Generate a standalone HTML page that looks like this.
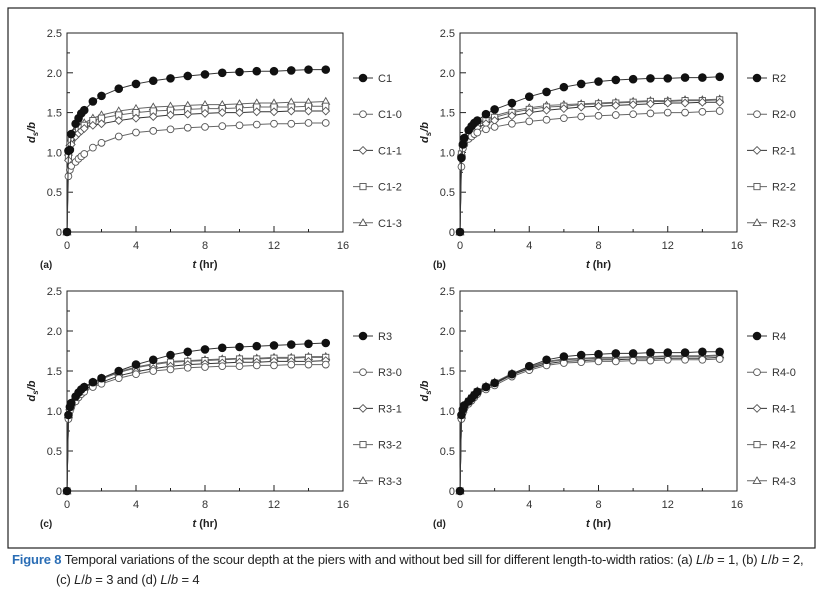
<!DOCTYPE html>
<html><head><meta charset="utf-8"><style>
body{margin:0;background:#fff;font-family:"Liberation Sans",sans-serif}
#wrap{position:relative;width:825px;height:594px;overflow:hidden}
.cap{position:absolute;font-family:"Liberation Sans Narrow","Liberation Sans",sans-serif;font-size:13px;color:#222;letter-spacing:-0.15px}
</style></head><body>
<div id="wrap">
<svg id="svg" width="825" height="594"></svg>
<div class="cap" style="left:12px;top:552px"><b style="color:#2a6db5">Figure 8</b> Temporal variations of the scour depth at the piers with and without bed sill for different length-to-width ratios: (a) <i>L</i>/<i>b</i> = 1, (b) <i>L</i>/<i>b</i> = 2,</div>
<div class="cap" style="left:56px;top:572px">(c) <i>L</i>/<i>b</i> = 3 and (d) <i>L</i>/<i>b</i> = 4</div>
</div>
<script>
const times=[0,0.083,0.167,0.25,0.5,0.67,0.83,1,1.5,2,3,4,5,6,7,8,9,10,11,12,13,14,15];
const xTicks=[0,4,8,12,16];
const yTicks=[0,0.5,1.0,1.5,2.0,2.5];
const yTickLabels=["0","0.5","1.0","1.5","2.0","2.5"];
const namesA=["C1","C1-0","C1-1","C1-2","C1-3"];
const namesB=["R2","R2-0","R2-1","R2-2","R2-3"];
const namesC=["R3","R3-0","R3-1","R3-2","R3-3"];
const namesD=["R4","R4-0","R4-1","R4-2","R4-3"];
const a0=[0,1.02,1.03,1.23,1.36,1.43,1.49,1.53,1.64,1.71,1.80,1.86,1.90,1.93,1.96,1.98,2.0,2.01,2.02,2.02,2.03,2.04,2.04];
const a1=[0,0.70,0.78,0.83,0.88,0.92,0.95,0.98,1.06,1.12,1.20,1.25,1.27,1.29,1.31,1.32,1.33,1.34,1.35,1.36,1.36,1.37,1.37];
const a2=[0,0.90,1.05,1.10,1.20,1.24,1.27,1.30,1.34,1.36,1.40,1.43,1.45,1.47,1.48,1.49,1.50,1.50,1.51,1.51,1.52,1.52,1.52];
const a3=[0,0.95,1.10,1.15,1.25,1.28,1.31,1.34,1.40,1.43,1.47,1.50,1.52,1.53,1.54,1.55,1.55,1.56,1.57,1.57,1.57,1.58,1.58];
const a4=[0,1.00,1.12,1.18,1.28,1.31,1.34,1.37,1.43,1.47,1.52,1.55,1.57,1.58,1.59,1.60,1.60,1.61,1.62,1.62,1.63,1.63,1.64];
const b0=[0,0.93,1.10,1.18,1.28,1.33,1.37,1.40,1.48,1.54,1.62,1.70,1.76,1.82,1.86,1.89,1.91,1.92,1.93,1.93,1.94,1.94,1.95];
const b1=[0,0.82,1.05,1.10,1.17,1.20,1.23,1.25,1.29,1.32,1.36,1.39,1.41,1.43,1.45,1.46,1.47,1.48,1.49,1.50,1.50,1.51,1.52];
const b2=[0,0.95,1.08,1.14,1.21,1.25,1.28,1.31,1.36,1.40,1.46,1.50,1.53,1.55,1.57,1.58,1.59,1.60,1.61,1.62,1.62,1.63,1.63];
const b3=[0,0.98,1.10,1.16,1.24,1.28,1.31,1.34,1.40,1.44,1.50,1.54,1.57,1.58,1.60,1.61,1.62,1.63,1.64,1.64,1.65,1.65,1.66];
const b4=[0,1.00,1.12,1.18,1.26,1.30,1.33,1.36,1.42,1.46,1.52,1.56,1.59,1.60,1.61,1.62,1.63,1.64,1.65,1.65,1.66,1.66,1.67];
const c0=[0,0.95,1.05,1.10,1.18,1.23,1.27,1.30,1.36,1.41,1.50,1.58,1.64,1.70,1.74,1.77,1.79,1.80,1.81,1.82,1.83,1.84,1.85];
const c1=[0,0.90,1.00,1.05,1.12,1.17,1.21,1.24,1.30,1.34,1.41,1.46,1.50,1.52,1.54,1.55,1.56,1.56,1.57,1.57,1.58,1.58,1.58];
const c2=[0,0.92,1.02,1.07,1.14,1.19,1.23,1.26,1.32,1.36,1.44,1.49,1.53,1.56,1.58,1.59,1.60,1.61,1.61,1.62,1.62,1.62,1.63];
const c3=[0,0.94,1.04,1.09,1.17,1.22,1.26,1.29,1.35,1.40,1.48,1.54,1.58,1.61,1.62,1.63,1.64,1.65,1.65,1.66,1.66,1.67,1.67];
const c4=[0,0.95,1.05,1.10,1.18,1.23,1.27,1.30,1.36,1.41,1.49,1.55,1.59,1.62,1.63,1.64,1.65,1.66,1.66,1.67,1.67,1.68,1.68];
const d0=[0,0.95,1.02,1.07,1.12,1.16,1.20,1.24,1.30,1.35,1.46,1.56,1.64,1.68,1.70,1.71,1.72,1.72,1.73,1.73,1.73,1.74,1.74];
const d1=[0,0.90,0.98,1.03,1.09,1.13,1.17,1.21,1.27,1.32,1.43,1.51,1.57,1.60,1.61,1.62,1.62,1.63,1.63,1.64,1.64,1.64,1.65];
const d2=[0,0.92,1.00,1.05,1.11,1.15,1.19,1.23,1.29,1.34,1.45,1.53,1.59,1.62,1.63,1.64,1.64,1.65,1.65,1.66,1.66,1.66,1.67];
const d3=[0,0.93,1.01,1.06,1.12,1.16,1.20,1.24,1.30,1.35,1.46,1.54,1.61,1.64,1.65,1.66,1.66,1.67,1.67,1.68,1.68,1.68,1.69];
const d4=[0,0.94,1.02,1.07,1.13,1.17,1.21,1.25,1.31,1.36,1.47,1.55,1.62,1.65,1.66,1.67,1.67,1.68,1.68,1.69,1.69,1.69,1.70];
const panels=[
 {id:"a",L:67,R:343,T:33,B:232,names:namesA,series:[a0,a1,a2,a3,a4]},
 {id:"b",L:460,R:737,T:33,B:232,names:namesB,series:[b0,b1,b2,b3,b4]},
 {id:"c",L:67,R:343,T:291,B:491,names:namesC,series:[c0,c1,c2,c3,c4]},
 {id:"d",L:460,R:737,T:291,B:491,names:namesD,series:[d0,d1,d2,d3,d4]}];
const NS="http://www.w3.org/2000/svg";
const svg=document.getElementById('svg');
function mk(tag,attrs,parent,text){const e=document.createElementNS(NS,tag);for(const k in attrs)e.setAttribute(k,attrs[k]);if(text!==undefined)e.textContent=text;(parent||svg).appendChild(e);return e;}
const frame=mk('rect',{x:8,y:8,width:807,height:540,fill:'none',stroke:'#222','stroke-width':1.2});


const lineCols=['#333','#666','#333','#666','#666'];
function marker(g,k,x,y){
 let e;
 if(k===0) e=mk('circle',{cx:x,cy:y,r:3.8,fill:'#111',stroke:'#111'},g);
 else if(k===1) e=mk('circle',{cx:x,cy:y,r:3.4,fill:'#fff',stroke:'#555','stroke-width':0.9},g);
 else if(k===2) e=mk('polygon',{points:`${x},${y-3.8} ${x+3.8},${y} ${x},${y+3.8} ${x-3.8},${y}`,fill:'#fff',stroke:'#555','stroke-width':0.9},g);
 else if(k===3) e=mk('rect',{x:x-3.1,y:y-3.1,width:6.2,height:6.2,fill:'#fff',stroke:'#555','stroke-width':0.9},g);
 else e=mk('polygon',{points:`${x},${y-3.8} ${x+3.8},${y+2.8} ${x-3.8},${y+2.8}`,fill:'#fff',stroke:'#555','stroke-width':0.9},g);
 
 
}
panels.forEach(p=>{
 const g=mk('g',{});
 
 
 const sx=v=>p.L+(v/16)*(p.R-p.L), sy=v=>p.B-(v/2.5)*(p.B-p.T);
 const ax=mk('rect',{x:p.L,y:p.T,width:p.R-p.L,height:p.B-p.T,fill:'none',stroke:'#222','stroke-width':1},g);
 
 
 xTicks.forEach(t=>{const x=sx(t);mk('line',{x1:x,x2:x,y1:p.B,y2:p.B-6,stroke:'#222'},g);
  if(t<16)mk('line',{x1:sx(t+2),x2:sx(t+2),y1:p.B,y2:p.B-3,stroke:'#222'},g);
  const tl=mk('text',{x:x,y:p.B+17,'font-size':11,'text-anchor':'middle',fill:'#333'},g,String(t));
  
  });
 yTicks.forEach((t,i)=>{const y=sy(t);mk('line',{x1:p.L,x2:p.L+6,y1:y,y2:y,stroke:'#222'},g);
  if(i<5)mk('line',{x1:p.L,x2:p.L+3,y1:sy(t+0.25),y2:sy(t+0.25),stroke:'#222'},g);
  const tl=mk('text',{x:p.L-5,y:y+4,'font-size':11,'text-anchor':'end',fill:'#333'},g,yTickLabels[i]);
  
  });
 const xt=mk('text',{x:(p.L+p.R)/2,y:p.B+36,'font-size':11,'font-weight':'bold','text-anchor':'middle',fill:'#222'},g);
 xt.innerHTML='<tspan font-style="italic">t</tspan> (hr)';
 
 
 const yx=p.L-32,yy=(p.T+p.B)/2;
 const yt=mk('text',{x:yx,y:yy,'font-size':11,'font-weight':'bold','font-style':'italic','text-anchor':'middle',transform:`rotate(-90 ${yx} ${yy})`,fill:'#222'},g);
 yt.innerHTML='d<tspan font-size="8" dy="3">s</tspan><tspan dy="-3">/b</tspan>';
 
 
 const pl=mk('text',{x:p.L-27,y:p.B+36,'font-size':10,'font-weight':'bold',fill:'#222'},g,'('+p.id+')');
 
 
 for(let k=4;k>=0;k--){
  const s=p.series[k];
  const sg=mk('g',{},g);
  
  
  const path=mk('polyline',{points:s.map((v,i)=>sx(times[i])+','+sy(v)).join(' '),fill:'none',stroke:lineCols[k],'stroke-width':1},sg);
  
  
  s.forEach((v,i)=>marker(sg,k,sx(times[i]),sy(v)));
  const ly=p.T+45+k*36.2;
  const lg=mk('g',{},g);
  
  
  mk('line',{x1:p.R+10,x2:p.R+30,y1:ly,y2:ly,stroke:lineCols[k]},lg);
  marker(lg,k,p.R+20,ly);
  mk('text',{x:p.R+35,y:ly+4,'font-size':11,fill:'#333'},lg,p.names[k]);
 }
});
</script>
</body></html>
